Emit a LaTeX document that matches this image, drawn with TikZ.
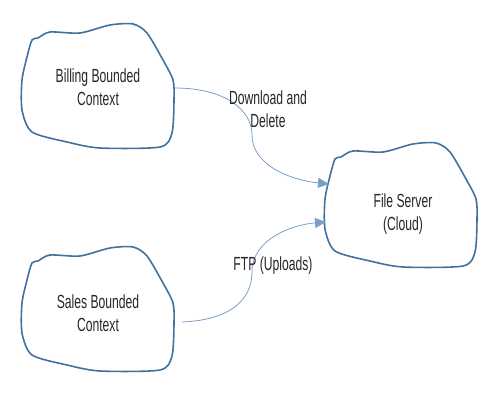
\documentclass[tikz,border=0pt]{standalone}
\usepackage{fontspec}
\setmainfont{Liberation Sans}[FakeStretch=0.64]
\usetikzlibrary{arrows.meta}
\definecolor{blobblue}{HTML}{41719C}
\definecolor{arrowblue}{HTML}{7A9EC6}
\tikzset{
  blobline/.style={draw=blobblue, line width=1.6pt, line join=round},
  lbl/.style={align=center, font=\fontsize{19}{23}\selectfont, text=black!85},
  conn/.style={draw=arrowblue, line width=0.8pt, -{Triangle[length=11pt,width=10pt]}},
}
\newcommand{\myblob}[1]{%
  \draw[blobline, shift={#1}] plot[smooth cycle, tension=0.45] coordinates {
    (32,40) (38,38) (50,32) (80,33) (110,25) (133,24) (147,33) (163,60)
    (173,80) (174,100) (172,133) (160,147) (100,148) (67,142) (32,132)
    (22,110) (22,80) (27,57)};}
\begin{document}
\begin{tikzpicture}[x=1pt,y=-1pt]
\useasboundingbox (0,0) rectangle (498,414);
\myblob{(0,0)}
\myblob{(0,223)}
\myblob{(303,119)}
\node[lbl] (billing) at (98,87) {Billing Bounded\\Context};
\node[lbl] (sales) at (98,313) {Sales Bounded\\Context};
\node[lbl] (server) at (403,214) {File Server\\(Cloud)};
\coordinate (b1) at (175,88);
\coordinate (bm) at (252,135);
\coordinate (f1) at (329,184);
\coordinate (s1) at (182,322);
\coordinate (sm) at (252,272);
\coordinate (f2) at (326,222);
\draw[conn] (b1) .. controls (225,88) and (252,110) .. (bm)
  .. controls (252,165) and (290,180) .. (f1);
\draw[conn] (s1) .. controls (230,320) and (252,300) .. (sm)
  .. controls (252,240) and (290,225) .. (f2);
\node[lbl] (dl) at (268,109) {Download and\\Delete};
\node[lbl] (ftp) at (273,266) {FTP (Uploads)};
\end{tikzpicture}
\end{document}
